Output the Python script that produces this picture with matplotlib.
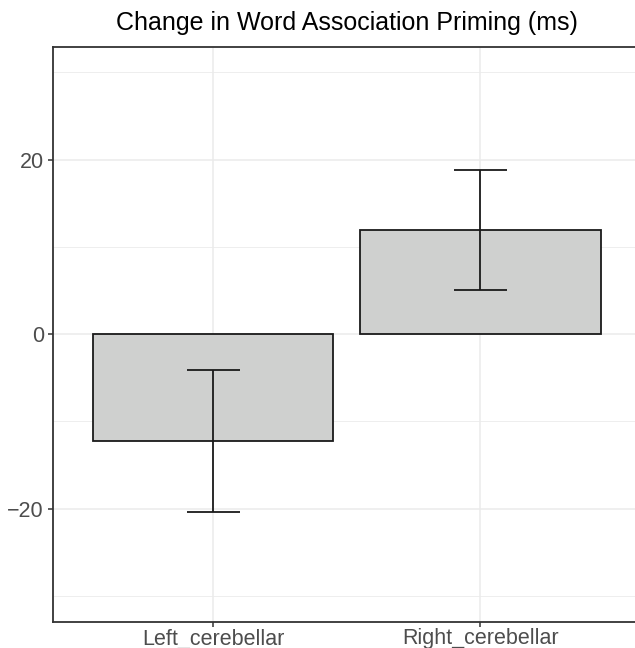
import numpy as np
import matplotlib
matplotlib.use('Agg')
import matplotlib.pyplot as plt

# data
groups = ['Left_cerebellar', 'Right_cerebellar']
means = [-12.27, 11.89]
lower = [-20.45, 5.01]
upper = [-4.13, 18.8]

plt.rcParams['font.family'] = ['Liberation Sans', 'DejaVu Sans']

W, H = 635, 648
fig = plt.figure(figsize=(W / 100, H / 100), dpi=100)
# panel in pixels: left 53, right ~641 (cut off by the figure edge), top 47, bottom 622
ax = fig.add_axes([53 / W, (H - 622) / H, (640.7 - 53) / W, (622 - 47) / H])

x = np.arange(len(groups))
ax.bar(x, means, width=0.9, color='#cfd0cf', edgecolor='#1a1a1a', linewidth=1.3, zorder=3)
means = np.array(means)
yerr = [means - np.array(lower), np.array(upper) - means]
ax.errorbar(x, means, yerr=yerr, fmt='none', ecolor='#1a1a1a', elinewidth=1.3,
            capsize=0, zorder=4)
# caps 0.2 wide in data units
for xi, lo, hi in zip(x, lower, upper):
    ax.hlines([lo, hi], xi - 0.1, xi + 0.1, color='#1a1a1a', linewidth=1.3, zorder=4)

ax.set_xlim(-0.6, 1.6)
ax.set_ylim(-33.0, 32.9)
ax.set_xticks(x)
ax.set_xticklabels(groups)
ax.set_yticks([-20, 0, 20])
ax.set_yticklabels(['\u221220', '0', '20'])
ax.set_yticks([-30, -10, 10, 30], minor=True)
ax.set_xticks([], minor=True)

ax.grid(True, which='major', color='#ebebeb', linewidth=1.1, zorder=0)
ax.grid(True, which='minor', axis='y', color='#ebebeb', linewidth=0.6, zorder=0)
ax.set_axisbelow(True)

for s in ax.spines.values():
    s.set_color('#333333')
    s.set_linewidth(1.3)
ax.spines['right'].set_visible(False)

ax.tick_params(which='major', length=3.5, width=1.1, color='#333333',
               labelcolor='#4d4d4d', labelsize=15.5)
ax.tick_params(axis='x', which='major', pad=1)
ax.tick_params(axis='y', which='major', pad=3)
ax.tick_params(which='minor', length=0)

fig.text(347 / W, 1 - 30 / H, 'Change in Word Association Priming (ms)',
         ha='center', va='baseline', fontsize=18, color='black')

fig.savefig('out.png', dpi=100)
